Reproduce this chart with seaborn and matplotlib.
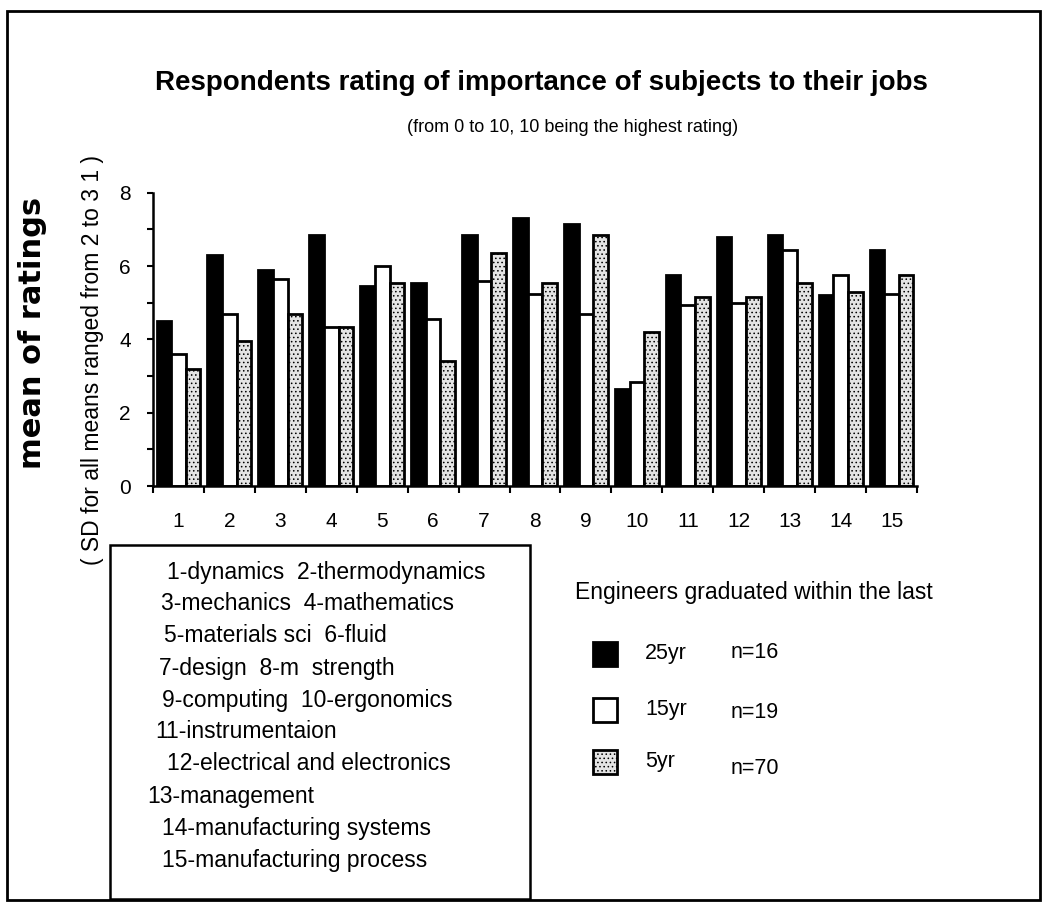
import matplotlib
matplotlib.use("Agg")
import matplotlib.pyplot as plt
from matplotlib.patches import Rectangle
from matplotlib.ticker import MultipleLocator
import numpy as np
import pandas as pd
import seaborn as sns

# subjects 1..15
subjects = [str(i) for i in range(1, 16)]
groups = ["25yr", "15yr", "5yr"]
group_n = ["n=16", "n=19", "n=70"]

# mean ratings
rating_25yr = [4.5, 6.3, 5.9, 6.85, 5.45, 5.55, 6.85, 7.3, 7.15, 2.65, 5.75, 6.8, 6.85, 5.2, 6.45]
rating_15yr = [3.6, 4.7, 5.65, 4.35, 6.0, 4.55, 5.6, 5.25, 4.7, 2.85, 4.95, 5.0, 6.45, 5.75, 5.25]
rating_5yr = [3.2, 3.95, 4.7, 4.35, 5.55, 3.4, 6.35, 5.55, 6.85, 4.2, 5.15, 5.15, 5.55, 5.3, 5.75]

subject_lines = [
    "1-dynamics  2-thermodynamics",
    "3-mechanics  4-mathematics",
    "5-materials sci  6-fluid",
    "7-design  8-m  strength",
    "9-computing  10-ergonomics",
    "11-instrumentaion",
    "12-electrical and electronics",
    "13-management",
    "14-manufacturing systems",
    "15-manufacturing process",
]
# small indent of each line in the original box (pixels)
line_x = [167, 161, 164, 159, 162, 155, 167, 147, 162, 162]

df = pd.DataFrame({
    "subject": subjects * 3,
    "group": np.repeat(groups, len(subjects)),
    "rating": rating_25yr + rating_15yr + rating_5yr,
})

sns.set_style("ticks")
plt.rcParams["font.family"] = ["Liberation Sans", "DejaVu Sans"]
plt.rcParams.update({"text.color": "black", "axes.edgecolor": "black",
                     "xtick.color": "black", "ytick.color": "black",
                     "hatch.linewidth": 0.6})

W, H = 1043, 902
fig = plt.figure(figsize=(W / 100, H / 100), dpi=100)
ax = fig.add_axes([153 / W, 1 - 486 / H, (917 - 153) / W, (486 - 192.7) / H])

palette = {"25yr": "black", "15yr": "white", "5yr": "#e4e4e4"}
sns.barplot(data=df, x="subject", y="rating", hue="group", hue_order=groups,
            palette=palette, edgecolor="black", linewidth=2, width=0.86,
            errorbar=None, legend=False, ax=ax)
for bar in ax.containers[2]:
    bar.set_hatch("....")

ax.set_xlim(-0.5, 14.5)
ax.set_ylim(0, 8)
ax.set_xlabel("")
ax.set_ylabel("")
ax.yaxis.set_major_locator(MultipleLocator(2))
ax.yaxis.set_minor_locator(MultipleLocator(1))
ax.set_xticks(np.arange(-0.5, 15, 1), minor=True)
ax.tick_params(axis="x", which="major", length=0, pad=19, labelsize=15)
ax.tick_params(axis="x", which="minor", length=5, width=1.5, direction="out")
ax.tick_params(axis="y", which="both", length=4, width=1.5, direction="out", pad=12, labelsize=15)
sns.despine(ax=ax)
for s in ["left", "bottom"]:
    ax.spines[s].set_linewidth(1.8)

# outer frame
fig.add_artist(Rectangle((7 / W, 1 - 900 / H), (1040 - 7) / W, (900 - 11) / H,
                         transform=fig.transFigure, fill=False, lw=2, color="black"))

fig.text(541 / W, 1 - 83 / H, "Respondents rating of importance of subjects to their jobs",
         ha="center", va="center", fontsize=20, fontweight="bold")
fig.text(573 / W, 1 - 127 / H, "(from 0 to 10, 10 being the highest rating)",
         ha="center", va="center", fontsize=13)

fig.text(33 / W, 1 - 333 / H, "mean of ratings", rotation=90, ha="center", va="center",
         fontsize=22, fontweight="bold", family="DejaVu Sans")
fig.text(93 / W, 1 - 360 / H, "( SD for all means ranged from 2 to 3 1 )", rotation=90,
         ha="center", va="center", fontsize=16.5)

# subject key box
fig.add_artist(Rectangle((110 / W, 1 - 899 / H), (530 - 110) / W, (899 - 545) / H,
                         transform=fig.transFigure, fill=False, lw=1.8, color="black"))
for i, (line, x) in enumerate(zip(subject_lines, line_x)):
    fig.text(x / W, 1 - (572 + 32 * i) / H, line, ha="left", va="center", fontsize=16.5)

# group legend
fig.text(575 / W, 1 - 593 / H, "Engineers graduated within the last",
         ha="left", va="center", fontsize=16.5)
legend_y = [654, 710, 762]
n_y = [652, 712, 768]
for g, n, y, ny in zip(groups, group_n, legend_y, n_y):
    patch = Rectangle((593 / W, 1 - (y + 12) / H), 24 / W, 24 / H, transform=fig.transFigure,
                      facecolor=palette[g], edgecolor="black", lw=2)
    if g == "5yr":
        patch.set_hatch("....")
    fig.add_artist(patch)
    fig.text(645 / W, 1 - y / H, g, ha="left", va="center", fontsize=15.5)
    fig.text(731 / W, 1 - ny / H, n, ha="left", va="center", fontsize=15.5)

fig.savefig("out.png", dpi=100)
